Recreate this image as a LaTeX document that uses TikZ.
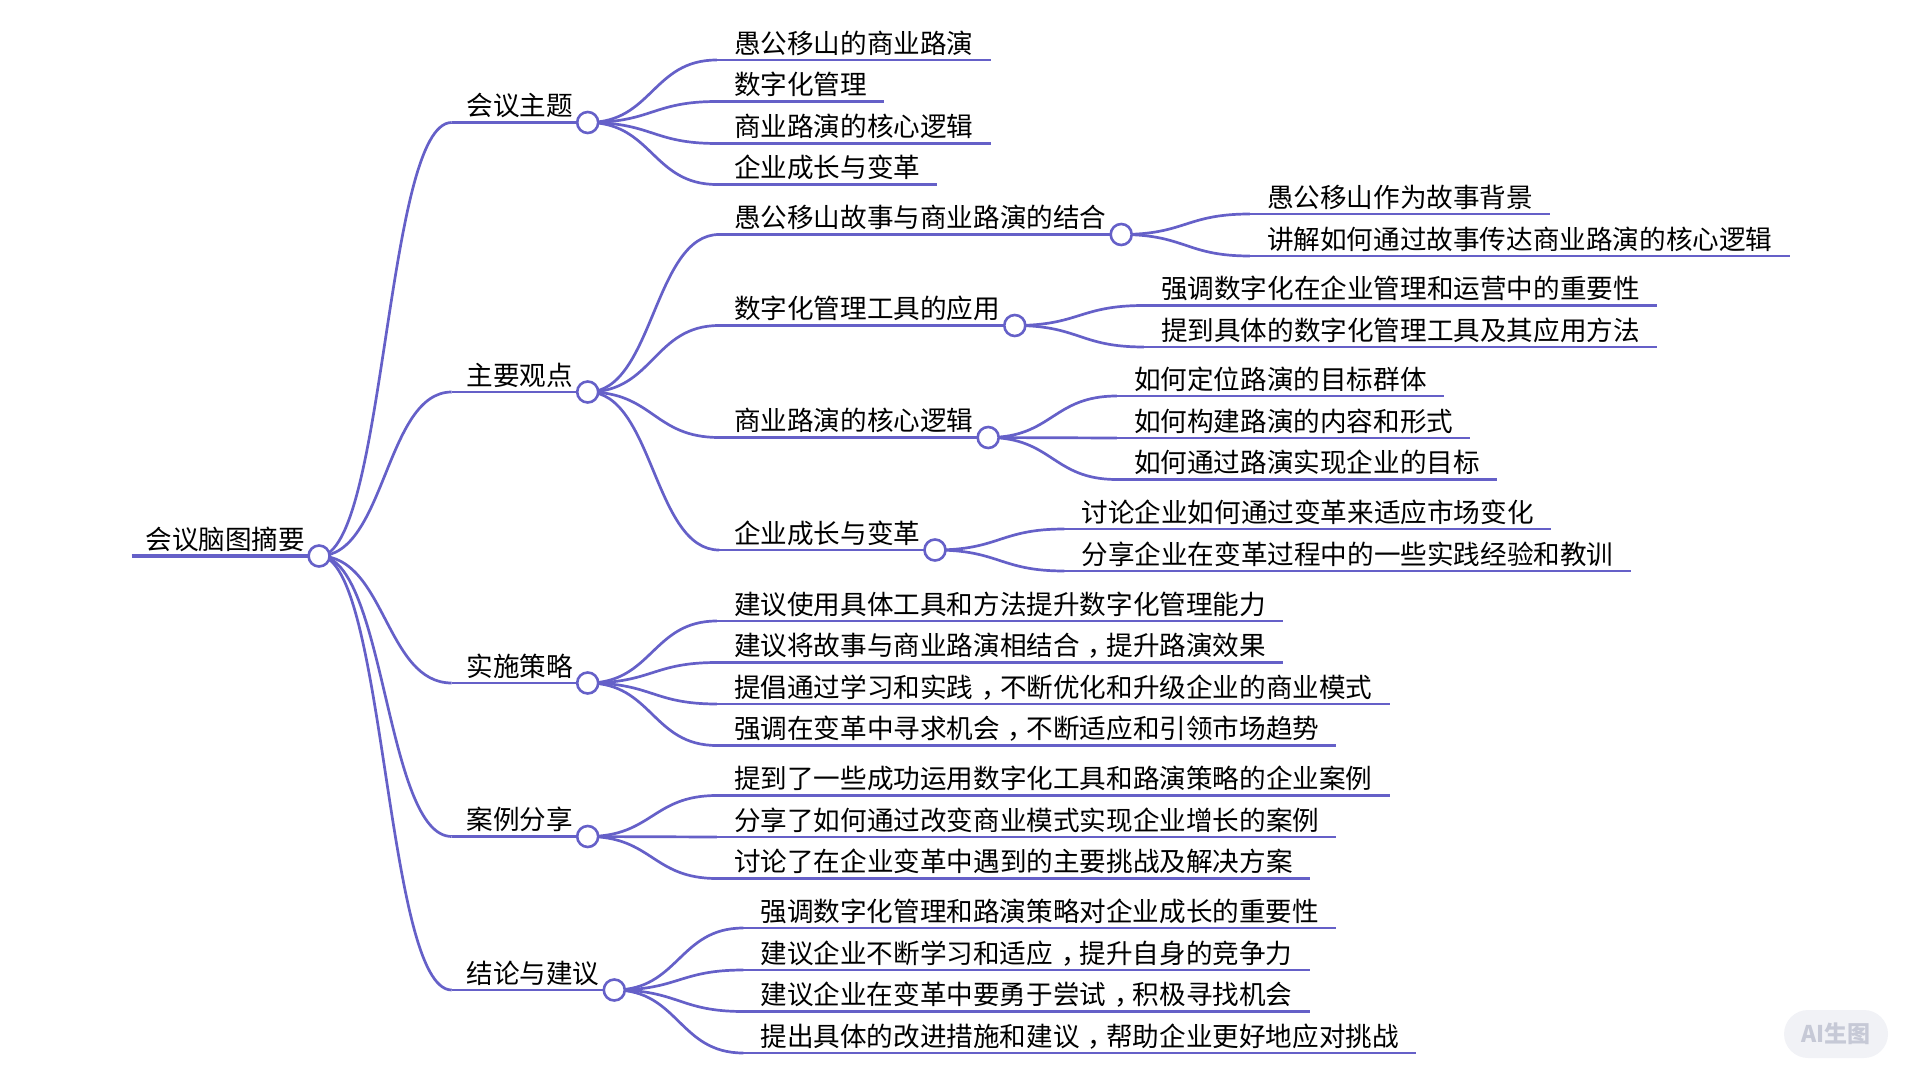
\documentclass[tikz,border=0pt]{standalone}
\usepackage{fontspec}
\setmainfont{Noto Sans CJK SC}
\usetikzlibrary{calc}
\definecolor{lnc}{HTML}{6560C8}
\definecolor{wmk}{HTML}{C6C9D6}
\definecolor{wbg}{HTML}{F1F2F6}
\newcommand{\cma}{\kern.3em，\kern-.3em}
\tikzset{%
    sec/.style={line width = 1.35pt, lnc},
    pri/.style={line width = 1.7pt, lnc},
    lnk/.style={to path={coordinate (m) at ($(\tikztostart)!.5!(\tikztotarget)$) .. controls (m |- \tikztostart) and (m |- \tikztotarget) .. (\tikztotarget)}},
    blo/.style={anchor=south west, inner xsep=8.6pt, inner ysep=0.45pt, outer sep=0pt, text height=12pt, text depth=3pt,
        font=\fontsize{13.3}{16}\selectfont,
        append after command={(\tikzlastnode.south west) edge [sec] (\tikzlastnode.south east)}},
    bli/.style={blo, inner xsep=7.4pt},
    dot/.style={circle, draw=lnc, fill=white, line width=1.3pt, minimum size=10.5pt, inner sep=0pt, outer sep=0pt},
}
\begin{document}
\begin{tikzpicture}[x=0.5pt,y=-0.5pt]
    \useasboundingbox (0,0) rectangle (1920,1080);
    \node [bli, inner xsep=7pt, append after command={(\tikzlastnode.south west) edge [pri] (\tikzlastnode.south east)}] (root) at (131.5,556) {会议脑图摘要};
    \node [bli] (ta) at (451.7,122.5) {会议主题};
    \node [bli] (tb) at (451.7,392) {主要观点};
    \node [bli] (tc) at (451.7,683) {实施策略};
    \node [bli] (td) at (451.7,836.5) {案例分享};
    \node [bli] (te) at (451.7,990) {结论与建议};
    \node [blo] (a1) at (716.8,60) {愚公移山的商业路演};
    \node [blo] (a2) at (716.8,101.5) {数字化管理};
    \node [blo] (a3) at (716.8,143.5) {商业路演的核心逻辑};
    \node [blo] (a4) at (716.8,184.5) {企业成长与变革};
    \node [bli] (b1) at (719.2,234.5) {愚公移山故事与商业路演的结合};
    \node [bli] (b2) at (719.2,325.5) {数字化管理工具的应用};
    \node [bli] (b3) at (719.2,437.5) {商业路演的核心逻辑};
    \node [bli] (b4) at (719.2,550) {企业成长与变革};
    \node [blo] (b11) at (1249.8,214) {愚公移山作为故事背景};
    \node [blo] (b12) at (1249.8,256) {讲解如何通过故事传达商业路演的核心逻辑};
    \node [blo] (b21) at (1143.8,305.5) {强调数字化在企业管理和运营中的重要性};
    \node [blo] (b22) at (1143.8,347) {提到具体的数字化管理工具及其应用方法};
    \node [blo] (b31) at (1116.8,396) {如何定位路演的目标群体};
    \node [blo] (b32) at (1116.8,438) {如何构建路演的内容和形式};
    \node [blo] (b33) at (1116.8,479.5) {如何通过路演实现企业的目标};
    \node [blo] (b41) at (1064.3,529) {讨论企业如何通过变革来适应市场变化};
    \node [blo] (b42) at (1064.3,571) {分享企业在变革过程中的一些实践经验和教训};
    \node [blo] (c1) at (716.8,621) {建议使用具体工具和方法提升数字化管理能力};
    \node [blo] (c2) at (716.8,662.5) {建议将故事与商业路演相结合\cma{}提升路演效果};
    \node [blo] (c3) at (716.8,704) {提倡通过学习和实践\cma{}不断优化和升级企业的商业模式};
    \node [blo] (c4) at (716.8,745.5) {强调在变革中寻求机会\cma{}不断适应和引领市场趋势};
    \node [blo] (d1) at (716.8,795.5) {提到了一些成功运用数字化工具和路演策略的企业案例};
    \node [blo] (d2) at (716.8,837) {分享了如何通过改变商业模式实现企业增长的案例};
    \node [blo] (d3) at (716.8,878.5) {讨论了在企业变革中遇到的主要挑战及解决方案};
    \node [blo] (e1) at (743.3,928) {强调数字化管理和路演策略对企业成长的重要性};
    \node [blo] (e2) at (743.3,970) {建议企业不断学习和适应\cma{}提升自身的竞争力};
    \node [blo] (e3) at (743.3,1011.5) {建议企业在变革中要勇于尝试\cma{}积极寻找机会};
    \node [blo] (e4) at (743.3,1053) {提出具体的改进措施和建议\cma{}帮助企业更好地应对挑战};
    \draw [sec] (root.south east) to [lnk] (ta.south west);
    \draw [sec] (root.south east) to [lnk] (tb.south west);
    \draw [sec] (root.south east) to [lnk] (tc.south west);
    \draw [sec] (root.south east) to [lnk] (td.south west);
    \draw [sec] (root.south east) to [lnk] (te.south west);
    \draw [sec] (ta.south east) to [lnk] (a1.south west);
    \draw [sec] (ta.south east) to [lnk] (a2.south west);
    \draw [sec] (ta.south east) to [lnk] (a3.south west);
    \draw [sec] (ta.south east) to [lnk] (a4.south west);
    \draw [sec] (tb.south east) to [lnk] (b1.south west);
    \draw [sec] (tb.south east) to [lnk] (b2.south west);
    \draw [sec] (tb.south east) to [lnk] (b3.south west);
    \draw [sec] (tb.south east) to [lnk] (b4.south west);
    \draw [sec] (b1.south east) to [lnk] (b11.south west);
    \draw [sec] (b1.south east) to [lnk] (b12.south west);
    \draw [sec] (b2.south east) to [lnk] (b21.south west);
    \draw [sec] (b2.south east) to [lnk] (b22.south west);
    \draw [sec] (b3.south east) to [lnk] (b31.south west);
    \draw [sec] (b3.south east) to [lnk] (b32.south west);
    \draw [sec] (b3.south east) to [lnk] (b33.south west);
    \draw [sec] (b4.south east) to [lnk] (b41.south west);
    \draw [sec] (b4.south east) to [lnk] (b42.south west);
    \draw [sec] (tc.south east) to [lnk] (c1.south west);
    \draw [sec] (tc.south east) to [lnk] (c2.south west);
    \draw [sec] (tc.south east) to [lnk] (c3.south west);
    \draw [sec] (tc.south east) to [lnk] (c4.south west);
    \draw [sec] (td.south east) to [lnk] (d1.south west);
    \draw [sec] (td.south east) to [lnk] (d2.south west);
    \draw [sec] (td.south east) to [lnk] (d3.south west);
    \draw [sec] (te.south east) to [lnk] (e1.south west);
    \draw [sec] (te.south east) to [lnk] (e2.south west);
    \draw [sec] (te.south east) to [lnk] (e3.south west);
    \draw [sec] (te.south east) to [lnk] (e4.south west);
    \node [dot] (droot) at (root.south east) {};
    \node [dot] (da) at (ta.south east) {};
    \node [dot] (db) at (tb.south east) {};
    \node [dot] (dc) at (tc.south east) {};
    \node [dot] (dd) at (td.south east) {};
    \node [dot] (de) at (te.south east) {};
    \node [dot] (db1) at (b1.south east) {};
    \node [dot] (db2) at (b2.south east) {};
    \node [dot] (db3) at (b3.south east) {};
    \node [dot] (db4) at (b4.south east) {};
    \node [rectangle, rounded corners=12pt, fill=wbg, text=wmk, minimum width=52pt, minimum height=24pt, inner sep=0pt,
        font=\fontsize{11.5}{14}\selectfont\bfseries] (wm) at (1836,1034) {AI生图};
\end{tikzpicture}
\end{document}
